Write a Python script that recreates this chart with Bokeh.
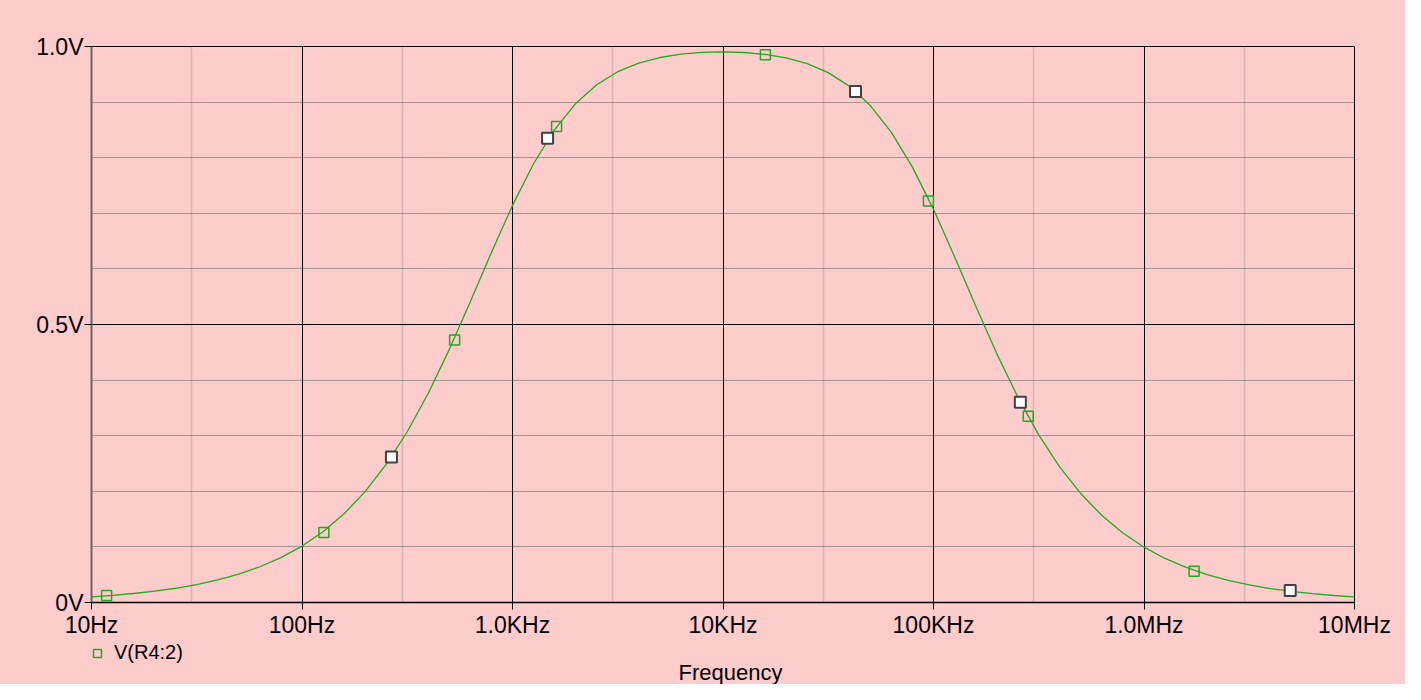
from bokeh.plotting import figure
from bokeh.layouts import column
from bokeh.models import Range1d, FixedTicker, Legend, LegendItem, Label
from bokeh.embed import file_html
from bokeh.resources import INLINE

# ---- data ----
freq_hz = [10, 12.59, 15.85, 19.95, 25.12, 31.62, 39.81, 50.12, 63.10, 79.43,
           100, 125.9, 158.5, 199.5, 251.2, 316.2, 398.1, 501.2, 631.0, 794.3,
           1000, 1259, 1585, 1995, 2512, 3162, 3981, 5012, 6310, 7943,
           10000, 12590, 15850, 19950, 25120, 31620, 39810, 50120, 63100, 79430,
           100000, 125900, 158500, 199500, 251200, 316200, 398100, 501200, 631000, 794300,
           1000000, 1259000, 1585000, 1995000, 2512000, 3162000, 3981000, 5012000, 6310000, 7943000,
           10000000]
v_r4 = [0.0102, 0.0128, 0.0162, 0.0204, 0.0256, 0.0323, 0.0406, 0.0511, 0.0643, 0.0808,
        0.1015, 0.1274, 0.1597, 0.1995, 0.2483, 0.3071, 0.3764, 0.4553, 0.5414, 0.6297,
        0.7142, 0.7891, 0.8504, 0.8974, 0.9313, 0.9547, 0.9702, 0.9802, 0.9862, 0.9894,
        0.9903, 0.9892, 0.9858, 0.9795, 0.9691, 0.9530, 0.9288, 0.8938, 0.8456, 0.7830,
        0.7071, 0.6220, 0.5336, 0.4481, 0.3699, 0.3015, 0.2436, 0.1957, 0.1565, 0.1249,
        0.0995, 0.0792, 0.0630, 0.0501, 0.0398, 0.0316, 0.0251, 0.0200, 0.0159, 0.0126,
        0.0100]

green_f = [11.8, 127, 531, 1620, 15900, 94600, 282000, 1730000]
green_v = [0.0126, 0.126, 0.472, 0.856, 0.985, 0.722, 0.335, 0.0563]
white_f = [266, 1468, 42600, 258600, 4950000]
white_v = [0.2616, 0.835, 0.919, 0.360, 0.0216]

x_ticks = [10, 100, 1000, 10000, 100000, 1000000, 10000000]
x_tick_labels = ["10Hz", "100Hz", "1.0KHz", "10KHz", "100KHz", "1.0MHz", "10MHz"]
x_minor = [30, 300, 3000, 30000, 300000, 3000000]
y_ticks = [0, 0.5, 1]
y_tick_labels = ["0V", "0.5V", "1.0V"]
y_minor = [0.1, 0.2, 0.3, 0.4, 0.6, 0.7, 0.8, 0.9]

series_name = "V(R4:2)"
x_title = "Frequency"

FONT = "Liberation Sans"
BG = "#FFCCCC"
GREEN = "#1faa1f"

# ---------------- main plot ----------------
p = figure(width=1405, height=640, x_axis_type="log",
           x_range=Range1d(10, 1e7), y_range=Range1d(0, 1),
           output_backend="svg", toolbar_location=None,
           min_border_left=91, min_border_right=51,
           min_border_top=46, min_border_bottom=38)
p.frame_align = False
p.background_fill_color = BG
p.border_fill_color = BG
p.outline_line_color = "black"
p.outline_line_width = 1

p.xaxis.ticker = FixedTicker(ticks=x_ticks, minor_ticks=x_minor)
p.yaxis.ticker = FixedTicker(ticks=y_ticks, minor_ticks=y_minor)
p.xaxis.major_label_overrides = {t: l for t, l in zip(x_ticks, x_tick_labels)}
p.yaxis.major_label_overrides = {t: l for t, l in zip(y_ticks, y_tick_labels)}

for ax in (p.xaxis, p.yaxis):
    ax.major_label_text_font = FONT
    ax.major_label_text_font_size = "23px"
    ax.major_label_text_color = "black"
    ax.minor_tick_line_color = None
    ax.major_tick_in = 0
    ax.major_tick_out = 7
    ax.major_tick_line_color = "black"
    ax.major_tick_line_width = 1

p.xaxis.axis_line_color = "black"
p.xaxis.axis_line_width = 1.5
p.xaxis.major_label_standoff = 2

p.yaxis.axis_line_color = "#666666"
p.yaxis.axis_line_width = 2
p.yaxis.major_label_standoff = 1

p.xgrid.grid_line_color = "black"
p.xgrid.grid_line_width = 1
p.xgrid.minor_grid_line_color = "#b09999"
p.xgrid.minor_grid_line_width = 1.5
p.xgrid.minor_grid_line_dash = "1 1"
p.ygrid.grid_line_color = "black"
p.ygrid.grid_line_width = 1
p.ygrid.minor_grid_line_color = "#555555"
p.ygrid.minor_grid_line_width = 1
p.ygrid.minor_grid_line_dash = "1 1"

p.line(freq_hz, v_r4, line_color=GREEN, line_width=1.3)
p.scatter(green_f, green_v, marker="square", size=10, fill_color=None,
          line_color=GREEN, line_width=1.5)
p.scatter(white_f, white_v, marker="square", size=11, fill_color="white",
          line_color="#404040", line_width=2)

# ---------------- legend + x title strip ----------------
q = figure(width=1405, height=44, x_range=Range1d(0, 1), y_range=Range1d(0, 1),
           output_backend="svg", toolbar_location=None,
           x_axis_location=None, y_axis_location=None,
           min_border=0, min_border_left=0, min_border_right=0,
           min_border_top=0, min_border_bottom=0)
q.frame_align = False
q.background_fill_color = BG
q.border_fill_color = BG
q.outline_line_color = None
q.grid.visible = False

# legend key renderer (its single point lies outside this strip's view)
key = q.scatter(green_f[:1], green_v[:1], marker="square", size=10,
                fill_color=None, line_color=GREEN, line_width=1.5)
legend = Legend(items=[LegendItem(label=series_name, renderers=[key])],
                location=(87, 20), padding=0, margin=0, spacing=0,
                glyph_width=20, glyph_height=20, label_height=20,
                label_standoff=7, border_line_color=None,
                background_fill_color=None,
                label_text_font=FONT, label_text_font_size="20px",
                label_text_color="black")
q.add_layout(legend, "center")

q.add_layout(Label(x=730, y=12, x_units="screen", y_units="screen",
                   text=x_title, text_align="center", text_baseline="middle",
                   text_font=FONT, text_font_size="22px", text_color="black"))

layout = column(p, q, spacing=0)
layout.styles = {"background-color": BG}
open("out.html", "w").write(file_html(layout, INLINE))
